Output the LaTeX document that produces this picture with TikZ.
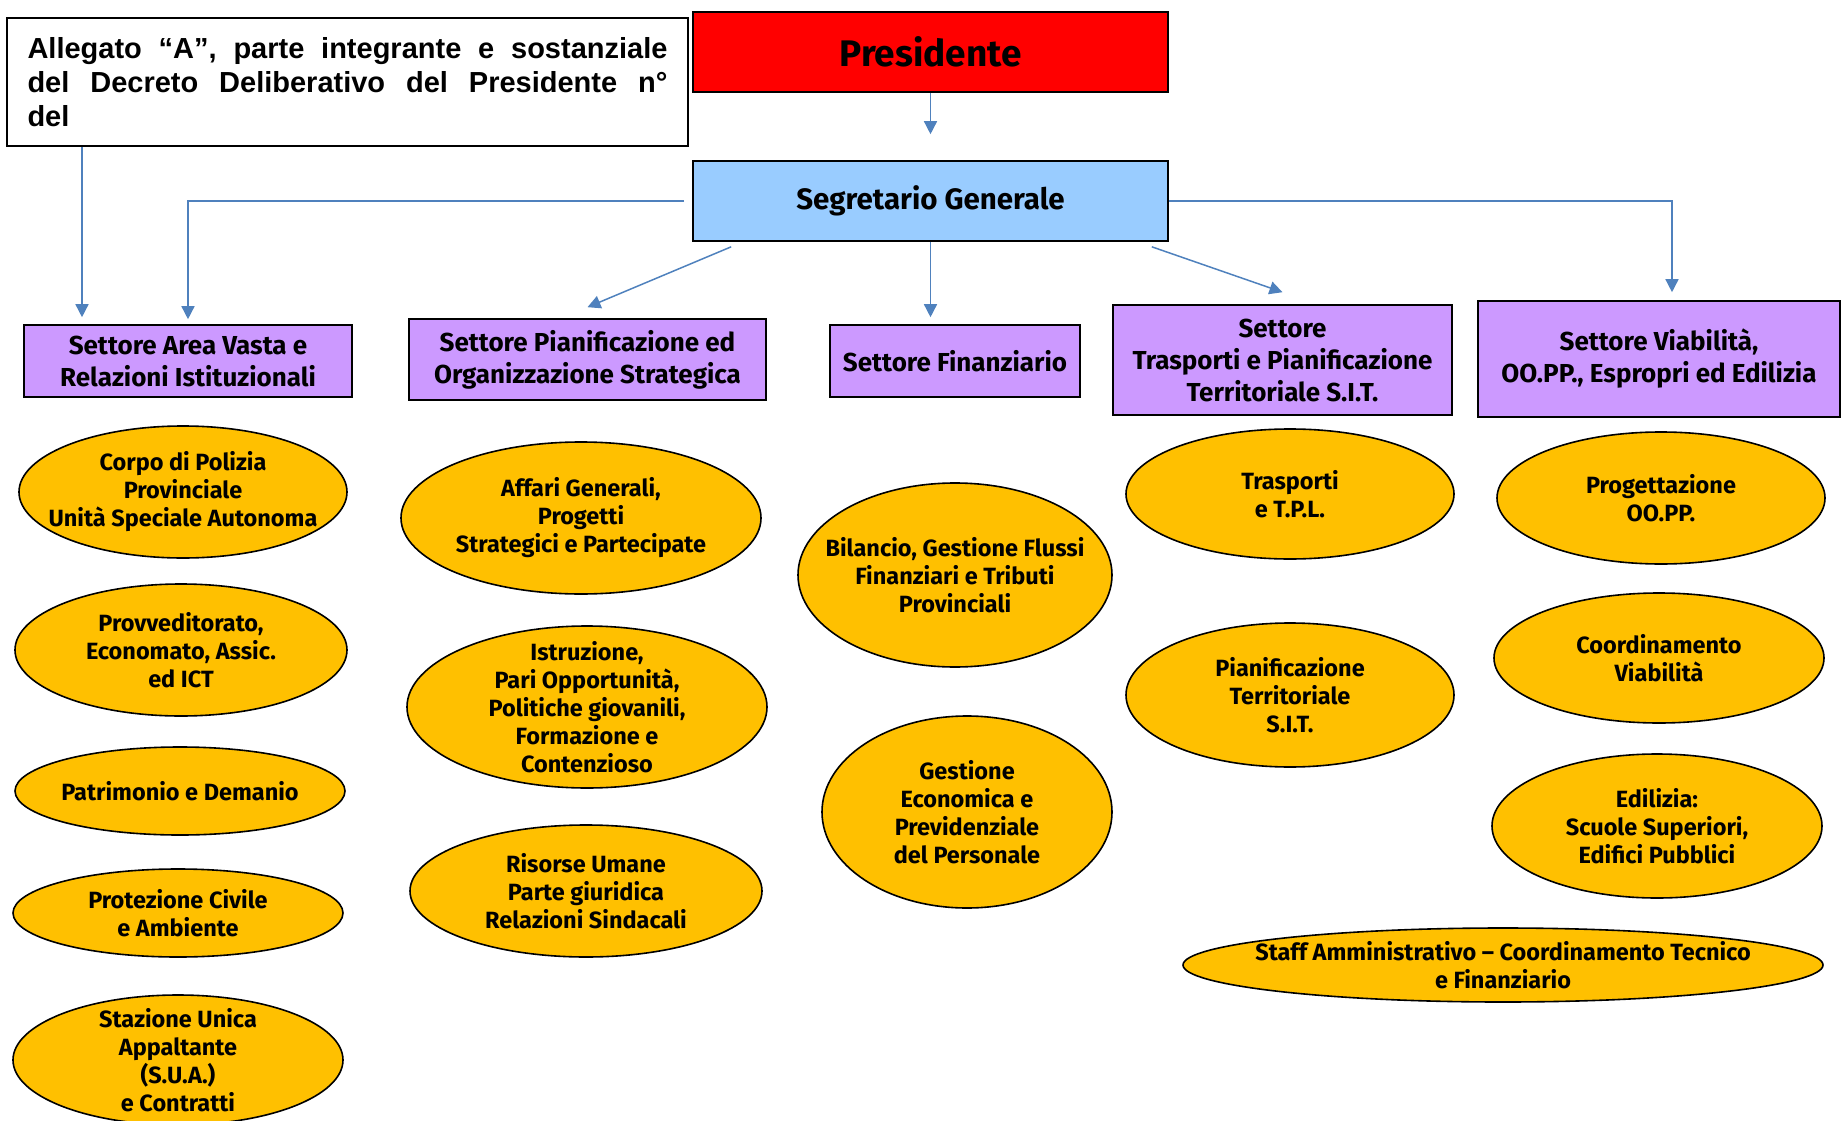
\documentclass[tikz,border=0pt]{standalone}
\usepackage{fontspec}
\setmainfont{Fira Sans}
\newfontfamily\allegfont{Liberation Sans}
\usetikzlibrary{positioning,arrows.meta,shapes.geometric}
\definecolor{linkblue}{HTML}{4F81BD}
\definecolor{presred}{HTML}{FF0000}
\definecolor{segblue}{HTML}{99CCFF}
\definecolor{settlilac}{HTML}{CC99FF}
\definecolor{uffgold}{HTML}{FFC000}
\tikzset{
  alleg/.style={draw, line width=1.6pt, fill=white, minimum width=681pt, minimum height=128pt, text width=640pt, align=justify, inner sep=0pt, font=\allegfont\bfseries\fontsize{29}{34}\selectfont},
  topbox/.style={draw, line width=1.6pt, minimum width=475pt, minimum height=80pt, inner sep=0pt, font=\bfseries},
  sett/.style={draw, line width=1.6pt, fill=settlilac, inner sep=0pt, align=center, font=\bfseries\fontsize{26}{32}\selectfont},
  uff/.style={ellipse, draw, line width=1.6pt, fill=uffgold, inner sep=0pt},
  ufftxt/.style={align=center, inner sep=0pt, font=\bfseries\fontsize{23.5}{28}\selectfont},
  conn/.style={draw=linkblue, line width=1.5pt, -{Triangle[length=13pt,width=13pt]}},
}
\begin{document}
\begin{tikzpicture}[x=1pt, y=-1pt]
\useasboundingbox (0,0) rectangle (1845,1121);
% top of the chart
\node[alleg] (alleg) at (347.5,82) {Allegato “A”, parte integrante e sostanziale\linebreak del Decreto Deliberativo del Presidente n°\linebreak del};
\node[topbox, fill=presred, font=\bfseries\fontsize{37}{40}\selectfont] (pres) at (930.5,52) {Presidente};
\node[topbox, fill=segblue, font=\bfseries\fontsize{29.5}{30}\selectfont] (seg) at (930.5,201) {Segretario Generale};
% settori
\node[sett, minimum width=328pt, minimum height=72pt] (sav) at (188,361) {Settore Area Vasta e\\Relazioni Istituzionali};
\node[sett, minimum width=357pt, minimum height=81pt] (spo) at (587.5,359.5) {Settore Pianificazione ed\\Organizzazione Strategica};
\node[sett, minimum width=250pt, minimum height=72pt] (sfin) at (955,361) {Settore Finanziario};
\node[sett, minimum width=339pt, minimum height=110pt] (str) at (1282.5,360) {Settore\\Trasporti e Pianificazione\\Territoriale S.I.T.};
\node[sett, minimum width=362pt, minimum height=116pt] (svi) at (1659,359) {Settore Viabilità,\\OO.PP., Espropri ed Edilizia};
% uffici, first column
\node[uff, minimum width=328pt, minimum height=132pt, label={[ufftxt]center:{Corpo di Polizia\\Provinciale\\Unità Speciale Autonoma}}] (corpo) at (183,492) {};
\node[uff, minimum width=332pt, minimum height=132pt, label={[ufftxt]center:{Provveditorato,\\Economato, Assic.\\ed ICT}}] (provv) at (181,650) {};
\node[uff, minimum width=330pt, minimum height=88pt, label={[ufftxt]center:{Patrimonio e Demanio}}] (patr) at (180,791) {};
\node[uff, minimum width=330pt, minimum height=88pt, label={[ufftxt]center:{Protezione Civile\\e Ambiente}}] (prot) at (178,913) {};
\node[uff, minimum width=330pt, minimum height=130pt, label={[ufftxt]center:{Stazione Unica\\Appaltante\\(S.U.A.)\\e Contratti}}] (sua) at (178,1060) {};
% second column
\node[uff, minimum width=360pt, minimum height=152pt, label={[ufftxt]center:{Affari Generali,\\Progetti\\Strategici e Partecipate}}] (affari) at (581,518) {};
\node[uff, minimum width=360pt, minimum height=162pt, label={[ufftxt]center:{Istruzione,\\Pari Opportunità,\\Politiche giovanili,\\Formazione e\\Contenzioso}}] (istr) at (587,707) {};
\node[uff, minimum width=352pt, minimum height=132pt, label={[ufftxt]center:{Risorse Umane\\Parte giuridica\\Relazioni Sindacali}}] (risorse) at (586,891) {};
% third column
\node[uff, minimum width=314pt, minimum height=184pt, label={[ufftxt]center:{Bilancio, Gestione Flussi\\Finanziari e Tributi\\Provinciali}}] (bilancio) at (955,575) {};
\node[uff, minimum width=290pt, minimum height=192pt, label={[ufftxt]center:{Gestione\\Economica e\\Previdenziale\\del Personale}}] (gestione) at (967,812) {};
% fourth column
\node[uff, minimum width=328pt, minimum height=130pt, label={[ufftxt]center:{Trasporti\\e T.P.L.}}] (trasp) at (1290,494) {};
\node[uff, minimum width=328pt, minimum height=144pt, label={[ufftxt]center:{Pianificazione\\Territoriale\\S.I.T.}}] (pianif) at (1290,695) {};
\node[uff, minimum width=640pt, minimum height=74pt, label={[ufftxt]center:{Staff Amministrativo -- Coordinamento Tecnico\\e Finanziario}}] (staff) at (1503,965) {};
% fifth column
\node[uff, minimum width=328pt, minimum height=132pt, label={[ufftxt]center:{Progettazione\\OO.PP.}}] (progett) at (1661,498) {};
\node[uff, minimum width=330pt, minimum height=130pt, label={[ufftxt]center:{Coordinamento\\Viabilità}}] (coord) at (1659,658) {};
\node[uff, minimum width=330pt, minimum height=144pt, label={[ufftxt]center:{Edilizia:\\Scuole Superiori,\\Edifici Pubblici}}] (edil) at (1657,826) {};
% connectors
\coordinate (xa) at (82,0);
\coordinate (xb) at (188,0);
\draw[conn, shorten >=26pt] (pres.south) -- (seg.north);
\draw[conn, shorten >=7pt] (alleg.south -| xa) -- (sav.north -| xa);
\draw[conn, shorten <=8pt, shorten >=5pt] (seg.west) -| (sav.north -| xb);
\draw[conn] ([xshift=39pt,yshift=-5pt]seg.south west) -- ([yshift=11pt]spo.north);
\draw[conn, shorten >=7pt] (seg.south) -- (seg.south |- sfin.north);
\draw[conn] ([xshift=-17pt,yshift=-5pt]seg.south east) -- ([yshift=12pt]str.north);
\draw[conn] (seg.east) -| ([xshift=13pt,yshift=8pt]svi.north);
\end{tikzpicture}
\end{document}
